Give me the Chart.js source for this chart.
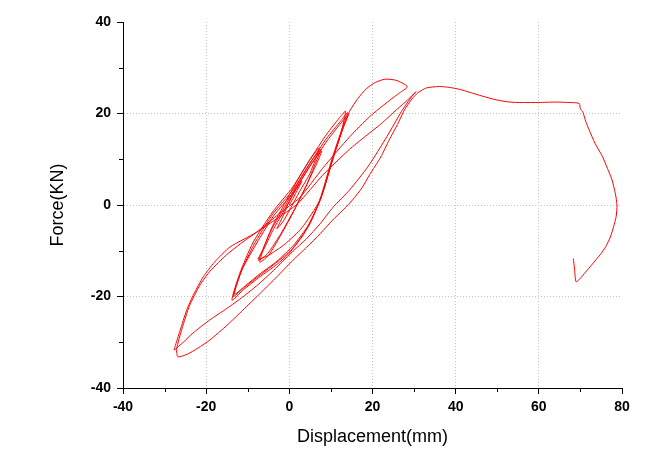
<!DOCTYPE html>
<html>
<head>
<meta charset="utf-8">
<script src="https://cdn.jsdelivr.net/npm/chart.js@4.4.0/dist/chart.umd.min.js"></script>
<style>
  html, body { margin: 0; padding: 0; background: #fff; }
</style>
</head>
<body>
<canvas id="chart" width="648" height="458"></canvas>
<script>
// displacement (mm), force (kN) pairs, in loading order
const loopsTiny = [
  [0, 0], [1.5, 2.5], [3, 5.2], [1.5, 3.2], [0, 0.8], [-1.5, -2.4], [-3, -5.2], [-1.5, -3.6], [0, -1.2]
];

const loopsSmall = [
  [2.5, 3], [5, 7], [7.2, 12.5],
  [5, 10], [2, 5.5], [-1, 0.5], [-4, -4.5], [-6, -9], [-7.1, -12.5],
  [-5, -11], [-2, -6.5], [1, -1.5], [4, 4], [6, 8.5], [7.6, 12.2],
  [5.3, 9.6], [2.2, 5], [-1, -0.2], [-4.2, -5.2], [-6.3, -9.5], [-7.4, -12.1],
  [-5.2, -10.6], [-2, -6.2], [1.2, -1], [4.2, 4.5], [6.2, 8.3], [7.8, 11.8],
  [5.5, 9.3], [2.4, 4.8], [-0.8, -0.5], [-4, -5.6], [-6.2, -9.8], [-7.5, -11.8]
];

const loopsMid = [
  [-5, -11], [-1, -8.5], [3, -5], [7.3, 1], [10.4, 10], [12.5, 16], [13.5, 20.5],
  [12, 19], [9, 15.5], [5, 10], [0.8, 3.9], [-4, -1.5], [-8.8, -8.3], [-11.9, -14.9], [-13.8, -20.8],
  [-11, -18.5], [-7.1, -15.7], [-3, -13], [0, -10.5], [3, -7], [5, -4], [7.3, 1], [10.4, 10.5], [12.8, 17], [14, 20.2],
  [12.3, 18.3], [9, 14.6], [5, 9.2], [0.8, 3.2], [-4, -2], [-8.6, -8.8], [-11.6, -14.6], [-13.5, -20],
  [-10.8, -18], [-7, -15.3], [-3, -12.5], [0.5, -9.8], [3.5, -6.2], [5.5, -3], [7.8, 2], [10.8, 11], [13, 17], [14.2, 19.8],
  [12.5, 18], [9.2, 14.2], [5.2, 8.8], [1, 2.8], [-3.8, -2.4], [-8.4, -9.2], [-11.4, -14.2], [-13.2, -19.5]
];

const loopsLarge = [
  [-10.5, -17.6], [-7, -15], [-3, -12.3], [1, -8.8], [4.5, -4.5], [7.6, 1.5], [10.6, 10.5], [12.8, 16.5],
  [14.5, 20.5], [16.5, 23.3], [18.5, 25.4], [20.7, 26.8], [23, 27.5], [25.5, 27.3], [27.3, 26.6], [28.4, 25.8],
  [26.5, 24.5], [24, 22.8], [19.3, 19.3], [14.5, 14.9], [8, 8], [2.5, 1.6], [-2.3, -1.8], [-8, -6],
  [-14.3, -9.2], [-18, -12.5], [-20.7, -15.7], [-23, -19.5], [-24.7, -23], [-26.3, -27.5], [-27.5, -31], [-27.7, -31.7],
  [-25.5, -30], [-23.2, -28], [-19.1, -25.1], [-15, -22.6], [-11.2, -20.1], [-7, -17], [-3, -13.6], [1, -10],
  [4, -7.5], [7.5, -4], [10.5, -0.5], [14.5, 3.3], [19, 8.5], [23.5, 15], [27, 20.5], [29.5, 23.8], [30.5, 24.8],
  [28.5, 23], [26, 21], [22, 17.7], [18, 14.8], [14.5, 12.2], [8, 6.5], [2, 0.3], [-4, -3.6], [-10, -7.3], [-15, -10.8],
  [-19, -14.4], [-21.5, -17.5], [-24, -22], [-25.8, -27], [-27.1, -31.5], [-26.8, -33.2]
];

const finalRun = [
  [-24.5, -32.6], [-22, -31.3], [-19.1, -29.5], [-15, -26.3], [-11.2, -23], [-7, -19.3], [-3, -15.7],
  [0.5, -12.4], [4.2, -9.2], [7.5, -6.2], [10.4, -3.3], [13, -1], [15.2, 1.1], [17.5, 3.8], [19.3, 6.6],
  [22, 10.5], [24, 14.2], [26, 17.6], [27.7, 20.8], [29.5, 23.2], [31, 24.6], [33, 25.6], [36.1, 25.9],
  [38.5, 25.7], [40.9, 25.3], [43.5, 24.6], [46.4, 23.8], [49.7, 23], [52.9, 22.5], [56, 22.4], [60, 22.4],
  [64, 22.5], [67.3, 22.4], [69.7, 22.2], [70, 21], [70.6, 20.3], [71.3, 18.2], [72.1, 16.4], [73.5, 13.5],
  [75.3, 10.6], [76.5, 8], [77.6, 5.5], [78.4, 2.5], [78.8, 0], [78.6, -2.5], [78, -4.7], [77.2, -7],
  [76.1, -9.1], [75, -10.6], [73.7, -12], [71.5, -14.4], [69, -16.8], [68.6, -14], [68.3, -11.7]
];

const xRange = [-40, 80];
const yRange = [-40, 40];
const majorStep = 20;

const points = [...loopsTiny, ...loopsSmall, ...loopsMid, ...loopsLarge, ...finalRun]
  .map(p => ({ x: p[0], y: p[1] }));

const FONT = "'Liberation Sans', Arial, sans-serif";

// dotted grid only on inner major ticks
const majorGrid = (lo, hi) => ctx => {
  const v = ctx.tick.value;
  return (v !== lo && v !== hi) ? '#c4c4c4' : 'rgba(0,0,0,0)';
};

// short minor ticks half way between the labelled ones
const minorTicks = {
  id: 'minorTicks',
  afterDraw(chart) {
    const { ctx } = chart;
    const xs = chart.scales.x, ys = chart.scales.y;
    ctx.save();
    ctx.strokeStyle = '#000';
    ctx.lineWidth = 1;
    ctx.beginPath();
    for (let v = xRange[0] + majorStep / 2; v < xRange[1]; v += majorStep) {
      const px = Math.round(xs.getPixelForValue(v)) + 0.5;
      ctx.moveTo(px, ys.bottom);
      ctx.lineTo(px, ys.bottom + 4);
    }
    for (let v = yRange[0] + majorStep / 2; v < yRange[1]; v += majorStep) {
      const py = Math.round(ys.getPixelForValue(v)) + 0.5;
      ctx.moveTo(xs.left, py);
      ctx.lineTo(xs.left - 4, py);
    }
    ctx.stroke();
    ctx.restore();
  }
};

new Chart(document.getElementById('chart'), {
  type: 'scatter',
  data: {
    datasets: [{
      data: points,
      showLine: true,
      borderColor: '#ff0000',
      borderWidth: 1,
      pointRadius: 0,
      tension: 0.2
    }]
  },
  options: {
    responsive: false,
    animation: false,
    layout: { padding: { left: 0, top: 22, right: 26, bottom: 0 } },
    plugins: { legend: { display: false }, tooltip: { enabled: false } },
    scales: {
      x: {
        min: xRange[0],
        max: xRange[1],
        afterFit: scale => { scale.height = 70; },
        ticks: {
          stepSize: majorStep,
          autoSkip: false,
          maxRotation: 0,
          padding: 5,
          color: '#000',
          font: { family: FONT, size: 14, weight: 'bold' }
        },
        grid: {
          color: majorGrid(xRange[0], xRange[1]),
          tickColor: '#000',
          tickLength: 6,
          tickWidth: 1
        },
        border: { display: true, color: '#000', width: 1, dash: [1, 2] },
        title: {
          display: true,
          text: 'Displacement(mm)',
          color: '#000',
          font: { family: FONT, size: 18 },
          padding: { top: 0, bottom: 10 }
        }
      },
      y: {
        min: yRange[0],
        max: yRange[1],
        afterFit: scale => { scale.width = 123; },
        ticks: {
          stepSize: majorStep,
          autoSkip: false,
          padding: 6,
          color: '#000',
          font: { family: FONT, size: 14, weight: 'bold' }
        },
        grid: {
          color: majorGrid(yRange[0], yRange[1]),
          tickColor: '#000',
          tickLength: 6,
          tickWidth: 1
        },
        border: { display: true, color: '#000', width: 1, dash: [1, 2] },
        title: {
          display: true,
          text: 'Force(KN)',
          color: '#000',
          font: { family: FONT, size: 18 },
          padding: { top: 47, bottom: 0 }
        }
      }
    }
  },
  plugins: [minorTicks]
});
</script>
</body>
</html>
